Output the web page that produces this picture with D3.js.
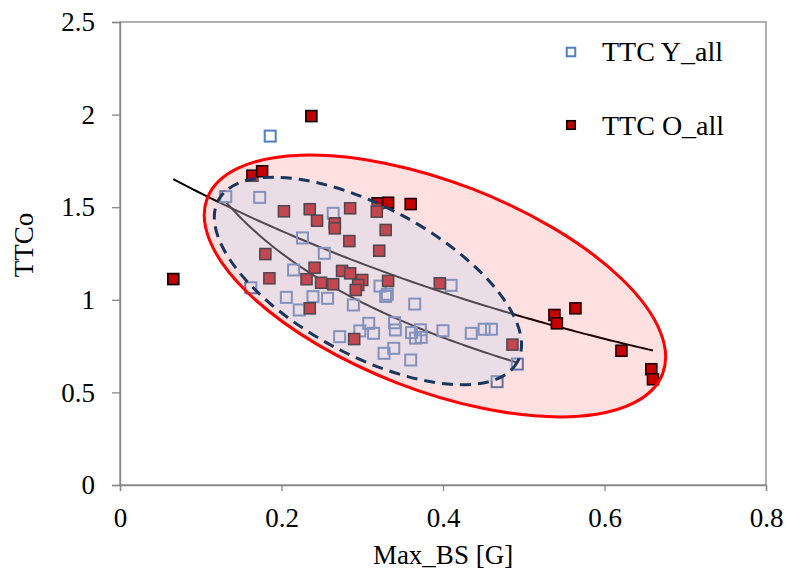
<!DOCTYPE html>
<html>
<head>
<meta charset="utf-8">
<script src="https://cdn.jsdelivr.net/npm/d3@7/dist/d3.min.js"></script>
<style>
  body { margin: 0; background: #fff; }
  svg { display: block; }
</style>
</head>
<body>
<svg id="chart" width="786" height="572"></svg>
<script>
// Axis ticks
const xTicks = [0, 0.2, 0.4, 0.6, 0.8];
const yTicks = [0, 0.5, 1, 1.5, 2, 2.5];

// Series labels
const seriesNames = ["TTC Y_all", "TTC O_all"];

// TTC Y_all: Max_BS [G] and TTCo
const yAllX = [0.186, 0.131, 0.173, 0.226, 0.264, 0.253, 0.215, 0.162, 0.206, 0.239,
               0.257, 0.222, 0.289, 0.322, 0.331, 0.329, 0.308, 0.297, 0.314, 0.272,
               0.327, 0.339, 0.340, 0.341, 0.361, 0.372, 0.366, 0.373, 0.400, 0.435,
               0.451, 0.460, 0.360, 0.492, 0.467, 0.410, 0.365];
const yAllY = [1.884, 1.557, 1.553, 1.334, 1.467, 1.251, 1.161, 1.065, 1.013, 1.017,
               1.008, 0.945, 0.972, 1.074, 1.030, 1.018, 0.873, 0.832, 0.819, 0.801,
               0.711, 0.738, 0.876, 0.837, 0.823, 0.838, 0.793, 0.797, 0.833, 0.819,
               0.841, 0.841, 0.675, 0.653, 0.558, 1.078, 0.977];

// TTC O_all: Max_BS [G] and TTCo
const oAllX = [0.066, 0.164, 0.176, 0.237, 0.203, 0.235, 0.244, 0.266, 0.266, 0.285,
               0.319, 0.332, 0.360, 0.318, 0.329, 0.284, 0.321, 0.180, 0.241, 0.231,
               0.249, 0.185, 0.264, 0.275, 0.285, 0.300, 0.295, 0.292, 0.332, 0.235,
               0.290, 0.396, 0.486, 0.564, 0.538, 0.541, 0.621, 0.658, 0.660];
const oAllY = [1.112, 1.670, 1.694, 1.992, 1.478, 1.489, 1.427, 1.413, 1.386, 1.494,
               1.521, 1.524, 1.517, 1.476, 1.377, 1.317, 1.265, 1.247, 1.173, 1.111,
               1.092, 1.116, 1.084, 1.156, 1.143, 1.107, 1.080, 1.053, 1.102, 0.954,
               0.788, 1.089, 0.758, 0.954, 0.918, 0.873, 0.725, 0.625, 0.571];

// Grouping ellipses (centre in data units, radii in px, tilt in degrees)
const regionO = { cx: 0.390, cy: 1.0745, rx: 244, ry: 104, angle: 21.1 };
const regionY = { cx: 0.307, cy: 1.1015, rx: 170, ry: 74, angle: 28.4 };

const serif = "'Liberation Serif', 'Times New Roman', Times, serif";
const fontSize = 27;

const svg = d3.select("#chart");
const plotL = 120, plotR = 766, plotT = 22, plotB = 485;

const x = d3.scaleLinear().domain([0, 0.8]).range([plotL, plotR]);
const y = d3.scaleLinear().domain([0, 2.5]).range([plotB, plotT]);

const axisColor = "#868686";

// Plot-area frame
svg.append("rect")
  .attr("x", plotL).attr("y", plotT)
  .attr("width", plotR - plotL).attr("height", plotB - plotT)
  .attr("fill", "none").attr("stroke", axisColor).attr("stroke-width", 1.3);

// Axes
const fmt = d => String(d);
const gx = svg.append("g").attr("transform", `translate(0,${plotB})`)
  .call(d3.axisBottom(x).tickValues(xTicks).tickFormat(fmt).tickSize(6).tickPadding(17));
const gy = svg.append("g").attr("transform", `translate(${plotL},0)`)
  .call(d3.axisLeft(y).tickValues(yTicks).tickFormat(fmt).tickSize(8).tickPadding(17));
[gx, gy].forEach(g => {
  g.select(".domain").attr("stroke", axisColor).attr("stroke-width", 1.3);
  g.selectAll(".tick line").attr("stroke", axisColor).attr("stroke-width", 1.3);
  g.selectAll(".tick text").style("font-family", serif).style("font-size", fontSize + "px")
    .attr("fill", "#000");
});

// Axis titles
svg.append("text").attr("x", (plotL + plotR) / 2).attr("y", 564)
  .attr("text-anchor", "middle")
  .style("font-family", serif).style("font-size", fontSize + "px").text("Max_BS [G]");
svg.append("text")
  .attr("transform", `translate(33,245) rotate(-90)`)
  .attr("text-anchor", "middle")
  .style("font-family", serif).style("font-size", fontSize + "px").text("TTCo");

// Least-squares trend curves
function expFit(xs, ys) {
  const ly = ys.map(Math.log);
  const mx = d3.mean(xs), my = d3.mean(ly);
  const b = d3.sum(xs, (v, i) => (v - mx) * (ly[i] - my)) / d3.sum(xs, v => (v - mx) ** 2);
  const a = Math.exp(my - b * mx);
  return v => a * Math.exp(b * v);
}
function logFit(xs, ys) {
  const lx = xs.map(Math.log);
  const mx = d3.mean(lx), my = d3.mean(ys);
  const b = d3.sum(lx, (v, i) => (v - mx) * (ys[i] - my)) / d3.sum(lx, v => (v - mx) ** 2);
  const a = my - b * mx;
  return v => a + b * Math.log(v);
}
function trendPath(f, xs) {
  const [x0, x1] = d3.extent(xs);
  const pts = d3.range(0, 101).map(i => x0 + (x1 - x0) * i / 100);
  return d3.line().x(v => x(v)).y(v => y(f(v)))(pts);
}
const fitO = expFit(oAllX, oAllY);
const fitY = logFit(yAllX, yAllY);

svg.append("path").attr("d", trendPath(fitO, oAllX))
  .attr("fill", "none").attr("stroke", "#000").attr("stroke-width", 2);
svg.append("path").attr("d", trendPath(fitY, yAllX))
  .attr("fill", "none").attr("stroke", "#000").attr("stroke-width", 2);

// Markers
const ms = 11;
svg.append("g").selectAll("rect").data(yAllX.map((v, i) => [v, yAllY[i]])).join("rect")
  .attr("x", d => x(d[0]) - ms / 2).attr("y", d => y(d[1]) - ms / 2)
  .attr("width", ms).attr("height", ms)
  .attr("fill", "none").attr("stroke", "#4f81bd").attr("stroke-width", 2);
svg.append("g").selectAll("rect").data(oAllX.map((v, i) => [v, oAllY[i]])).join("rect")
  .attr("x", d => x(d[0]) - ms / 2).attr("y", d => y(d[1]) - ms / 2)
  .attr("width", ms).attr("height", ms)
  .attr("fill", "#c00000").attr("stroke", "#000").attr("stroke-width", 1.6);

// Grouping ellipses drawn over the markers
function ellipse(r, fill, stroke, dash) {
  const cx = x(r.cx), cy = y(r.cy);
  const e = svg.append("ellipse")
    .attr("cx", cx).attr("cy", cy).attr("rx", r.rx).attr("ry", r.ry)
    .attr("transform", `rotate(${r.angle} ${cx} ${cy})`)
    .attr("fill", fill).attr("stroke", stroke).attr("stroke-width", 3);
  if (dash) e.attr("stroke-dasharray", dash);
}
ellipse(regionO, "rgba(255,0,0,0.12)", "#ff0000", null);
ellipse(regionY, "rgba(190,215,239,0.33)", "#17375e", "11,7");

// Legend
const legend = svg.append("g");
const lgMarkY = [52, 125];
const lgTextY = [61, 135];
const lm = 8.5;
legend.append("rect").attr("x", 571 - lm / 2).attr("y", lgMarkY[0] - lm / 2)
  .attr("width", lm).attr("height", lm)
  .attr("fill", "#fff").attr("stroke", "#4f81bd").attr("stroke-width", 2);
legend.append("rect").attr("x", 571 - lm / 2).attr("y", lgMarkY[1] - lm / 2)
  .attr("width", lm).attr("height", lm)
  .attr("fill", "#c00000").attr("stroke", "#000").attr("stroke-width", 1.6);
seriesNames.forEach((n, i) => {
  legend.append("text").attr("x", 602).attr("y", lgTextY[i])
    .style("font-family", serif).style("font-size", "28px").text(n);
});
</script>
</body>
</html>
